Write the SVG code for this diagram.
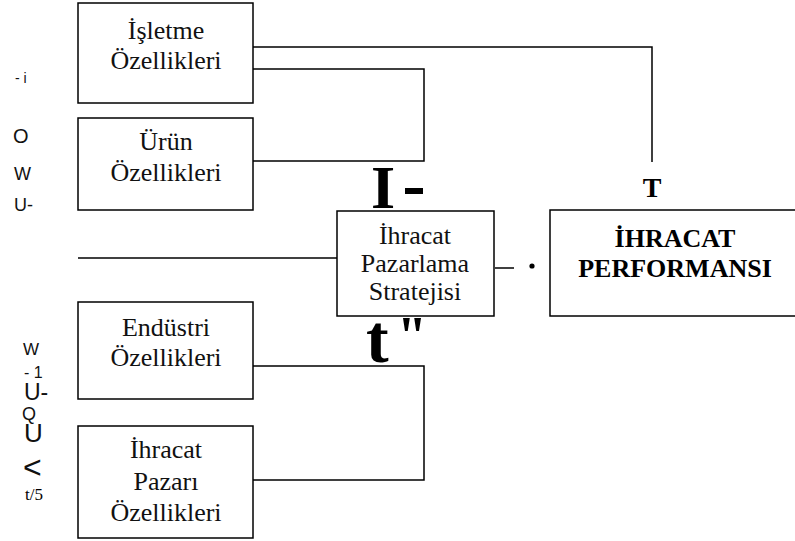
<svg xmlns="http://www.w3.org/2000/svg" width="795" height="541" viewBox="0 0 795 541">
  <style>
    .box { fill: #fff; stroke: #000; stroke-width: 1.5; }
    .wire { fill: none; stroke: #000; stroke-width: 1.5; }
    .lbl { font-family: "Liberation Serif", "Times New Roman", serif; font-size: 26px; fill: #111; text-anchor: middle; }
    .bold { font-family: "Liberation Serif", "Times New Roman", serif; font-weight: bold; fill: #000; }
    .side { font-family: "Liberation Sans", Arial, sans-serif; fill: #111; }
  </style>
  <rect width="795" height="541" fill="#fff"/>

  <!-- connectors -->
  <g id="connectors">
    <polyline class="wire" points="253,47 652,47 652,162"/>
    <polyline class="wire" points="253,69 424,69 424,161 253,161"/>
    <line class="wire" x1="78" y1="258" x2="337" y2="258"/>
    <polyline class="wire" points="253,366 424,366 424,480 253,480"/>
    <line class="wire" x1="495" y1="268" x2="514" y2="268"/>
    <circle cx="532" cy="266" r="2.6" fill="#000"/>
  </g>

  <!-- stray marks printed round the links -->
  <g id="marks">
    <text class="bold" x="371" y="208" font-size="62">I</text>
    <rect x="405" y="188" width="18" height="6" fill="#000"/>
    <text class="bold" x="366" y="362" font-size="68">t</text>
    <text class="bold" x="397" y="354" font-size="54">"</text>
    <text class="bold" x="652" y="197" font-size="28" text-anchor="middle">T</text>
  </g>

  <g id="isletme">
    <rect class="box" x="78" y="3" width="175" height="100"/>
    <text class="lbl" x="166" y="39">İşletme</text>
    <text class="lbl" x="166" y="69">Özellikleri</text>
  </g>

  <g id="urun">
    <rect class="box" x="78" y="118" width="175" height="92"/>
    <text class="lbl" x="166" y="150">Ürün</text>
    <text class="lbl" x="166" y="181">Özellikleri</text>
  </g>

  <g id="strateji">
    <rect class="box" x="337" y="211" width="157" height="105"/>
    <text class="lbl" x="415" y="244">İhracat</text>
    <text class="lbl" x="415" y="272">Pazarlama</text>
    <text class="lbl" x="415" y="300">Stratejisi</text>
  </g>

  <g id="performans">
    <rect class="box" x="550" y="210" width="250" height="106"/>
    <text class="bold" x="675" y="247" font-size="26" text-anchor="middle">İHRACAT</text>
    <text class="bold" x="675" y="277" font-size="26" text-anchor="middle">PERFORMANSI</text>
  </g>

  <g id="endustri">
    <rect class="box" x="78" y="302" width="175" height="97"/>
    <text class="lbl" x="166" y="336">Endüstri</text>
    <text class="lbl" x="166" y="366">Özellikleri</text>
  </g>

  <g id="pazar">
    <rect class="box" x="78" y="426" width="175" height="112"/>
    <text class="lbl" x="166" y="458">İhracat</text>
    <text class="lbl" x="166" y="490">Pazarı</text>
    <text class="lbl" x="166" y="521">Özellikleri</text>
  </g>

  <!-- side captions -->
  <g id="side-top">
    <text class="side" x="15" y="83" font-size="14">- i</text>
    <text class="side" x="13" y="143" font-size="20">O</text>
    <text class="side" x="14" y="180" font-size="18">W</text>
    <text class="side" x="14" y="211" font-size="18">U-</text>
  </g>
  <g id="side-bottom">
    <text class="side" x="23" y="355" font-size="17">W</text>
    <text class="side" x="24" y="378" font-size="16">- 1</text>
    <text class="side" x="24" y="400" font-size="23">U-</text>
    <text class="side" x="22" y="420" font-size="18">Q</text>
    <text class="side" x="24" y="442" font-size="26">U</text>
    <text class="side" x="23" y="478" font-size="32">&lt;</text>
    <text class="bold" x="25" y="500" font-size="17" style="font-weight:normal">t/5</text>
  </g>
</svg>
